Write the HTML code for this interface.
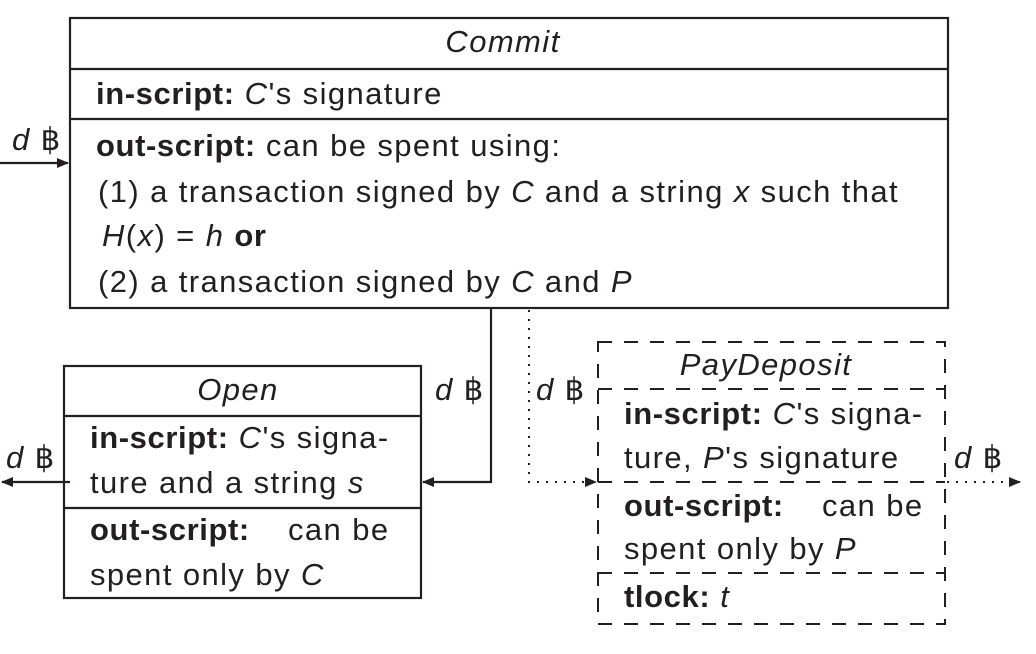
<!DOCTYPE html>
<html><head><meta charset="utf-8"><style>
html,body{margin:0;padding:0;background:#fff;}
svg{display:block;}
text{font-family:"Liberation Sans","DejaVu Sans",sans-serif;font-size:31px;letter-spacing:1.4px;fill:#231f20;}
.b{font-weight:bold;letter-spacing:0.6px;}
.i{font-style:italic;}
</style></head><body>
<svg width="1036" height="654" viewBox="0 0 1036 654" xmlns="http://www.w3.org/2000/svg">
<defs>
<marker id="ar" markerWidth="12" markerHeight="10" refX="11" refY="5" orient="auto" markerUnits="userSpaceOnUse">
<path d="M0,0 L12,5 L0,10 Z" fill="#231f20"/></marker>
</defs>
<g stroke="#231f20" stroke-width="2.2" fill="none">
<rect x="70" y="18" width="878" height="290"/>
<line x1="70" y1="69" x2="948" y2="69"/>
<line x1="70" y1="119" x2="948" y2="119"/>
<rect x="64" y="366" width="357" height="232"/>
<line x1="64" y1="416" x2="421" y2="416"/>
<line x1="64" y1="508" x2="421" y2="508"/>
<line x1="0" y1="163" x2="68" y2="163" marker-end="url(#ar)"/>
<polyline points="491,308 491,482 423,482" marker-end="url(#ar)"/>
<line x1="70" y1="482" x2="2" y2="482" marker-end="url(#ar)"/>
</g>
<g stroke="#231f20" stroke-width="2" fill="none" stroke-dasharray="14 12">
<rect x="598" y="342" width="347" height="282"/>
<line x1="598" y1="389" x2="945" y2="389"/>
<line x1="598" y1="482" x2="945" y2="482"/>
<line x1="598" y1="573" x2="945" y2="573"/>
</g>
<g stroke="#231f20" stroke-width="2" fill="none" stroke-dasharray="2 7">
<polyline points="529,310 529,482 596,482" marker-end="url(#ar)"/>
<line x1="947" y1="482" x2="1020" y2="482" marker-end="url(#ar)"/>
</g>
<text x="503" y="52" text-anchor="middle" class="i">Commit</text>
<text x="96" y="104"><tspan class="b">in-script:</tspan> <tspan class="i">C</tspan>'s signature</text>
<text x="96" y="156"><tspan class="b">out-script:</tspan> can be spent using:</text>
<text x="98" y="202">(1) a transaction signed by <tspan class="i">C</tspan> and a string <tspan class="i">x</tspan> such that</text>
<text x="102" y="246"><tspan class="i">H</tspan>(<tspan class="i">x</tspan>) = <tspan class="i">h</tspan> <tspan class="b">or</tspan></text>
<text x="98" y="292">(2) a transaction signed by <tspan class="i">C</tspan> and <tspan class="i">P</tspan></text>
<text x="12" y="150"><tspan class="i">d</tspan> ฿</text>
<text x="238" y="400" text-anchor="middle" class="i">Open</text>
<text x="90" y="448"><tspan class="b">in-script:</tspan> <tspan class="i">C</tspan>'s signa-</text>
<text x="90" y="493">ture and a string <tspan class="i">s</tspan></text>
<text x="90" y="540"><tspan class="b">out-script:</tspan><tspan x="288">can be</tspan></text>
<text x="90" y="585">spent only by <tspan class="i">C</tspan></text>
<text x="6" y="468"><tspan class="i">d</tspan> ฿</text>
<text x="435" y="400"><tspan class="i">d</tspan> ฿</text>
<text x="536" y="400"><tspan class="i">d</tspan> ฿</text>
<text x="766" y="375" text-anchor="middle" class="i">PayDeposit</text>
<text x="624" y="424"><tspan class="b">in-script:</tspan> <tspan class="i">C</tspan>'s signa-</text>
<text x="624" y="468">ture, <tspan class="i">P</tspan>'s signature</text>
<text x="624" y="516"><tspan class="b">out-script:</tspan><tspan x="822">can be</tspan></text>
<text x="624" y="559">spent only by <tspan class="i">P</tspan></text>
<text x="624" y="607"><tspan class="b">tlock:</tspan> <tspan class="i">t</tspan></text>
<text x="954" y="468"><tspan class="i">d</tspan> ฿</text>
</svg>
</body></html>
